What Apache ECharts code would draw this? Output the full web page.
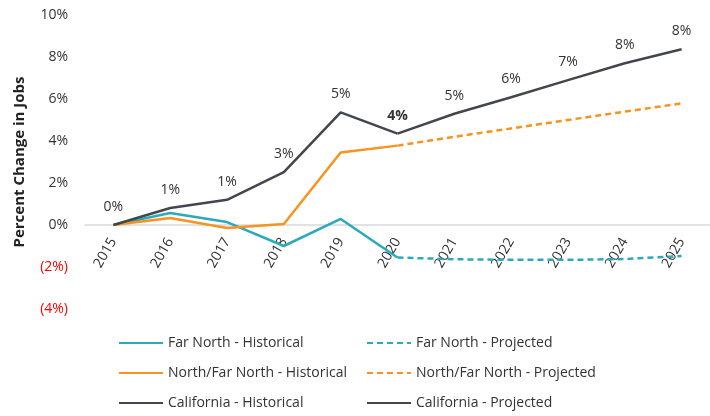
<!DOCTYPE html>
<html><head><meta charset="utf-8">
<script src="https://cdn.jsdelivr.net/npm/echarts@6/dist/echarts.min.js"></script>
<style>html,body{margin:0;padding:0;background:#fff}#c{width:710px;height:416px}</style>
</head><body><div id="c"></div>
<script>
const years = ['2015','2016','2017','2018','2019','2020','2021','2022','2023','2024','2025'];
const farNorthHist = [0, 0.57, 0.14, -1.0, 0.29, -1.55, null, null, null, null, null];
const farNorthProj = [null, null, null, null, null, -1.55, -1.63, -1.66, -1.66, -1.62, -1.48];
const nfnHist = [0, 0.33, -0.14, 0.05, 3.45, 3.78, null, null, null, null, null];
const nfnProj = [null, null, null, null, null, 3.78, 4.2, 4.6, 5.0, 5.4, 5.79];
const caHist = [0, 0.81, 1.2, 2.52, 5.36, 4.35, null, null, null, null, null];
const caProj = [null, null, null, null, null, 4.35, 5.3, 6.08, 6.9, 7.7, 8.37];
const yTicks = [-4, -2, 0, 2, 4, 6, 8, 10];

const TEAL = '#2CA9BA', ORANGE = '#F7931E', DARK = '#41474D';
const FONT = '"Open Sans", "Noto Sans", sans-serif';
const chart = echarts.init(document.getElementById('c'));

function line(name, data, color, dashed, labels) {
  const s = {
    name, type: 'line', data, symbol: 'none', connectNulls: false,
    lineStyle: { color, width: 2.5, type: dashed ? [6, 4] : 'solid' },
    itemStyle: { color }, z: labels ? 5 : 3
  };
  if (labels) {
    s.symbol = 'circle';
    s.symbolSize = 0;
    s.showSymbol = true;
    s.showAllSymbol = true;
    s.data = data.map((v, i) => {
      if (v === null) return null;
      const o = { value: v };
      if (labels === 'proj' && i === 5) o.label = { show: false };
      if (labels === 'hist' && i === 5) o.label = { fontWeight: 'bold' };
      return o;
    });
    s.label = {
      show: true, position: 'top', distance: 11, color: '#333', fontSize: 14,
      fontFamily: FONT, formatter: p => Math.round(p.value) + '%'
    };
  }
  return s;
}

const legendBase = {
  orient: 'vertical', top: 336, padding: 0, itemWidth: 44, itemHeight: 14, itemGap: 16,
  itemStyle: { opacity: 0 },
  textStyle: { fontSize: 14, color: '#333', fontFamily: FONT }
};

chart.setOption({
  animation: false,
  textStyle: { fontFamily: FONT },
  grid: { left: 85, right: -13, top: 15, bottom: 107 },
  xAxis: {
    type: 'category', data: years, boundaryGap: true,
    axisLine: { onZero: true, lineStyle: { color: '#d9d9d9', width: 1.5 } },
    axisTick: { show: false },
    axisLabel: { rotate: 60, color: '#333', fontSize: 14, margin: -70, fontFamily: FONT }
  },
  yAxis: {
    type: 'value', min: -4, max: 10, interval: 2,
    splitLine: { show: false }, axisLine: { show: false }, axisTick: { show: false },
    axisLabel: {
      margin: 17, fontSize: 14, fontFamily: FONT,
      color: v => (v < 0 ? '#FF0000' : '#333'),
      formatter: v => (yTicks.includes(v) ? (v < 0 ? '(' + (-v) + '%)' : v + '%') : '')
    },
    name: 'Percent Change in Jobs', nameLocation: 'middle', nameGap: 58, nameRotate: 90,
    nameTextStyle: { fontSize: 15, fontWeight: 'bold', color: '#222', fontFamily: FONT }
  },
  legend: [
    Object.assign({ left: 118, data: ['Far North - Historical', 'North/Far North - Historical', 'California - Historical'] }, legendBase),
    Object.assign({ left: 366, data: ['Far North - Projected', 'North/Far North - Projected', 'California - Projected'] }, legendBase)
  ],
  series: [
    line('Far North - Historical', farNorthHist, TEAL, false),
    line('Far North - Projected', farNorthProj, TEAL, true),
    line('North/Far North - Historical', nfnHist, ORANGE, false),
    line('North/Far North - Projected', nfnProj, ORANGE, true),
    line('California - Historical', caHist, DARK, false, 'hist'),
    line('California - Projected', caProj, DARK, false, 'proj')
  ]
});
</script></body></html>
